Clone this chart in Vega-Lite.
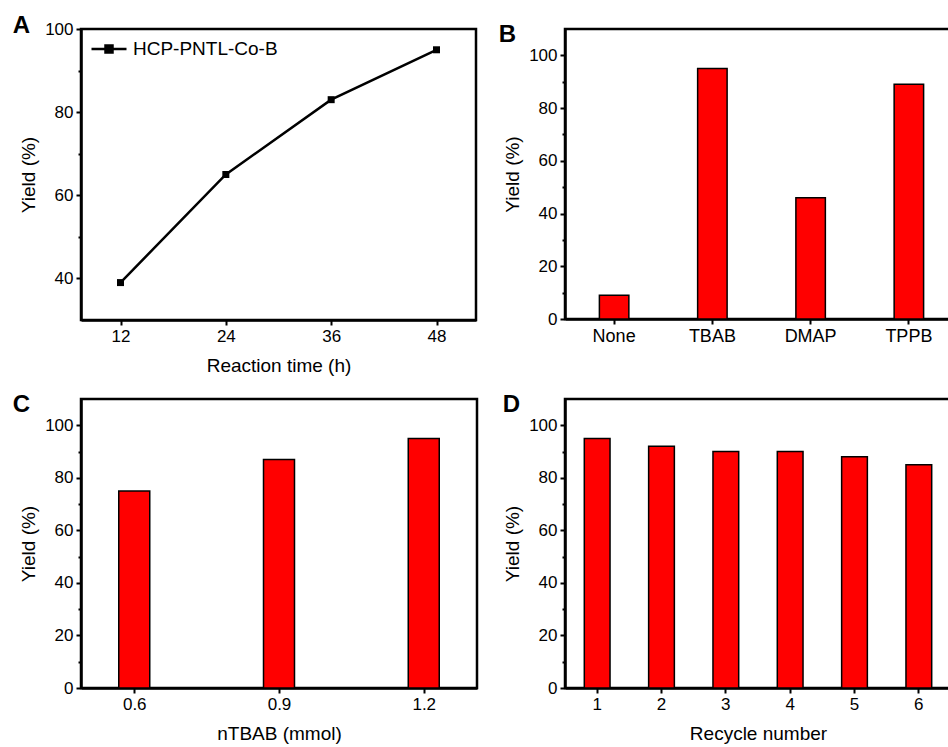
{
  "$schema": "https://vega.github.io/schema/vega-lite/v6.json",
  "background": "white",
  "padding": {"left": 11, "top": 12, "right": 0, "bottom": 0},
  "columns": 2,
  "spacing": {"row": 14, "column": 18},
  "config": {
    "font": "Liberation Sans",
    "view": {"stroke": "black", "strokeWidth": 2.5},
    "axis": {
      "domainColor": "black", "domainWidth": 2.5,
      "tickColor": "black", "tickWidth": 2, "tickSize": 5,
      "labelFontSize": 17, "labelColor": "black", "labelPadding": 3,
      "titleFontSize": 19, "titleFontWeight": "normal", "titleColor": "black", "titlePadding": 6,
      "grid": false
    },
    "axisX": {"titlePadding": 12},
    "title": {"fontSize": 24, "fontWeight": "bold", "anchor": "start", "frame": "bounds", "color": "black", "offset": 0}
  },
  "concat": [
    {
      "width": 395, "height": 291,
      "title": {"text": "A", "dx": -7, "dy": 22},
      "data": {"values": [
        {"time": 12, "yield": 39, "series": "HCP-PNTL-Co-B"},
        {"time": 24, "yield": 65, "series": "HCP-PNTL-Co-B"},
        {"time": 36, "yield": 83, "series": "HCP-PNTL-Co-B"},
        {"time": 48, "yield": 95, "series": "HCP-PNTL-Co-B"}
      ]},
      "mark": {"type": "line", "strokeWidth": 2.5, "point": {"shape": "square", "filled": true, "size": 49, "opacity": 1}},
      "encoding": {
        "x": {"field": "time", "type": "quantitative", "scale": {"domain": [7.5, 52.5], "nice": false},
              "axis": {"values": [12, 24, 36, 48], "title": "Reaction time (h)"}},
        "y": {"field": "yield", "type": "quantitative", "scale": {"domain": [30, 100], "nice": false},
              "axis": {"values": [40, 50, 60, 70, 80, 90, 100], "title": "Yield (%)",
                       "labelExpr": "datum.value % 20 == 0 ? datum.label : ''",
                       "tickSize": {"condition": {"test": "datum.value % 20 == 0", "value": 5}, "value": 3}}},
        "color": {"field": "series", "type": "nominal", "scale": {"range": ["black"]},
                  "legend": {"orient": "none", "legendX": 9, "legendY": 1, "title": null, "padding": 0,
                             "labelFontSize": 19, "labelColor": "black", "labelOffset": 5,
                             "symbolType": "M-1,0H1M-0.2,-0.2H0.2V0.2H-0.2Z", "symbolSize": 1225,
                             "symbolStrokeWidth": 2.5, "symbolFillColor": "black", "symbolStrokeColor": "black"}}
      }
    },
    {
      "width": 393, "height": 290,
      "title": {"text": "B", "dx": -5, "dy": 22},
      "data": {"values": [
        {"additive": "None", "yield": 9},
        {"additive": "TBAB", "yield": 95},
        {"additive": "DMAP", "yield": 46},
        {"additive": "TPPB", "yield": 89}
      ]},
      "mark": {"type": "bar", "color": "#ff0000", "stroke": "black", "strokeWidth": 1.5, "width": {"band": 0.3}},
      "encoding": {
        "x": {"field": "additive", "type": "nominal", "sort": null, "scale": {"paddingInner": 0, "paddingOuter": 0},
              "axis": {"title": null, "labelAngle": 0, "labelFontSize": 18}},
        "y": {"field": "yield", "type": "quantitative", "scale": {"domain": [0, 110], "nice": false},
              "axis": {"values": [0, 10, 20, 30, 40, 50, 60, 70, 80, 90, 100], "title": "Yield (%)",
                       "labelExpr": "datum.value % 20 == 0 ? datum.label : ''",
                       "tickSize": {"condition": {"test": "datum.value % 20 == 0", "value": 5}, "value": 3}}}
      }
    },
    {
      "width": 396, "height": 289,
      "title": {"text": "C", "dx": -7, "dy": 22},
      "data": {"values": [
        {"n": 0.6, "yield": 75},
        {"n": 0.9, "yield": 87},
        {"n": 1.2, "yield": 95}
      ]},
      "mark": {"type": "bar", "color": "#ff0000", "stroke": "black", "strokeWidth": 1.5, "width": 31},
      "encoding": {
        "x": {"field": "n", "type": "quantitative", "scale": {"domain": [0.5, 1.3], "nice": false},
              "axis": {"values": [0.6, 0.9, 1.2], "format": ".1f", "title": "nTBAB (mmol)"}},
        "y": {"field": "yield", "type": "quantitative", "scale": {"domain": [0, 110], "nice": false},
              "axis": {"values": [0, 10, 20, 30, 40, 50, 60, 70, 80, 90, 100], "title": "Yield (%)",
                       "labelExpr": "datum.value % 20 == 0 ? datum.label : ''",
                       "tickSize": {"condition": {"test": "datum.value % 20 == 0", "value": 5}, "value": 3}}}
      }
    },
    {
      "width": 386, "height": 289,
      "title": {"text": "D", "dx": -1, "dy": 22},
      "data": {"values": [
        {"cycle": "1", "yield": 95},
        {"cycle": "2", "yield": 92},
        {"cycle": "3", "yield": 90},
        {"cycle": "4", "yield": 90},
        {"cycle": "5", "yield": 88},
        {"cycle": "6", "yield": 85}
      ]},
      "mark": {"type": "bar", "color": "#ff0000", "stroke": "black", "strokeWidth": 1.5, "width": {"band": 0.4}},
      "encoding": {
        "x": {"field": "cycle", "type": "ordinal", "scale": {"paddingInner": 0, "paddingOuter": 0},
              "axis": {"title": "Recycle number", "labelAngle": 0}},
        "y": {"field": "yield", "type": "quantitative", "scale": {"domain": [0, 110], "nice": false},
              "axis": {"values": [0, 10, 20, 30, 40, 50, 60, 70, 80, 90, 100], "title": "Yield (%)",
                       "labelExpr": "datum.value % 20 == 0 ? datum.label : ''",
                       "tickSize": {"condition": {"test": "datum.value % 20 == 0", "value": 5}, "value": 3}}}
      }
    }
  ]
}
